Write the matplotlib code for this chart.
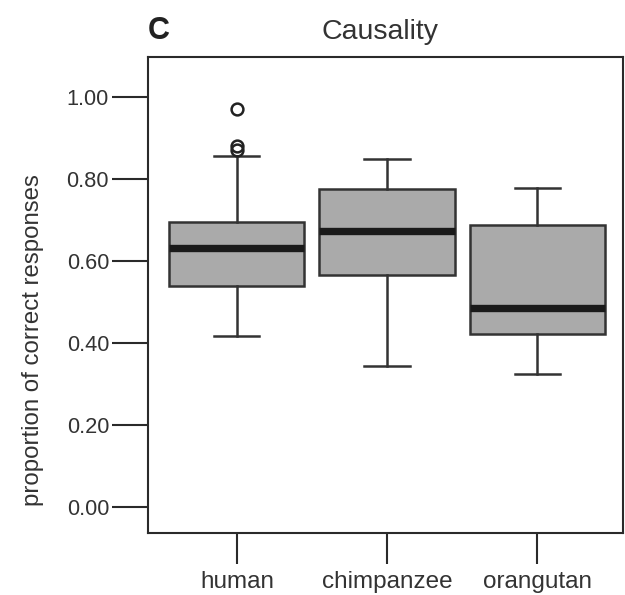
import matplotlib
matplotlib.use("Agg")
import matplotlib.pyplot as plt

plt.rcParams['font.family'] = ['Liberation Sans', 'DejaVu Sans']

# Box statistics
groups = ['human', 'chimpanzee', 'orangutan']
q1 = [0.540, 0.566, 0.423]
med = [0.632, 0.674, 0.485]
q3 = [0.696, 0.777, 0.688]
whislo = [0.417, 0.344, 0.326]
whishi = [0.856, 0.848, 0.779]
fliers = [[0.972, 0.870, 0.880], [], []]

stats = []
for i, g in enumerate(groups):
    stats.append(dict(label=g, q1=q1[i], med=med[i], q3=q3[i],
                      whislo=whislo[i], whishi=whishi[i], fliers=fliers[i]))

fig = plt.figure(figsize=(6.25, 5.95), dpi=100)
ax = fig.add_axes([0.2368, 0.1042, 0.76, 0.80])

edge = '#333333'
ax.bxp(stats, positions=[1, 2, 3], widths=0.9, patch_artist=True,
       showfliers=True,
       boxprops=dict(facecolor='#aaaaaa', edgecolor=edge, linewidth=1.8),
       medianprops=dict(color='#1a1a1a', linewidth=5.3, solid_capstyle='butt'),
       whiskerprops=dict(color=edge, linewidth=1.8),
       capprops=dict(color=edge, linewidth=1.8),
       capwidths=0.3,
       flierprops=dict(marker='o', markerfacecolor='none', markeredgecolor='#222222',
                       markersize=8.5, markeredgewidth=1.8))

ax.set_xlim(0.407, 3.573)
ax.set_ylim(-0.063, 1.098)
ax.set_yticks([0.0, 0.2, 0.4, 0.6, 0.8, 1.0])
ax.set_yticklabels(['0.00', '0.20', '0.40', '0.60', '0.80', '1.00'])
ax.set_xticks([1, 2, 3])
ax.set_xticklabels(groups)

for s in ax.spines.values():
    s.set_linewidth(1.5)
    s.set_color('#2a2a2a')
ax.tick_params(axis='y', length=26, width=1.5, color='#2a2a2a', labelsize=15.7,
               labelcolor='#333333', pad=2)
ax.tick_params(axis='x', length=22, width=1.5, color='#2a2a2a', labelsize=17.5,
               labelcolor='#333333', pad=5)

fig.text(33 / 625, 1 - 340 / 595, 'proportion of correct responses', rotation=90,
         ha='center', va='center', fontsize=17.3, color='#333333')
fig.text(148 / 625, 1 - 31 / 595, 'C', fontsize=22, fontweight='bold',
         ha='left', va='center', color='#222222')
fig.text(380 / 625, 1 - 32 / 595, 'Causality', fontsize=20.5,
         ha='center', va='center', color='#333333')

fig.savefig('out.png', dpi=100)
